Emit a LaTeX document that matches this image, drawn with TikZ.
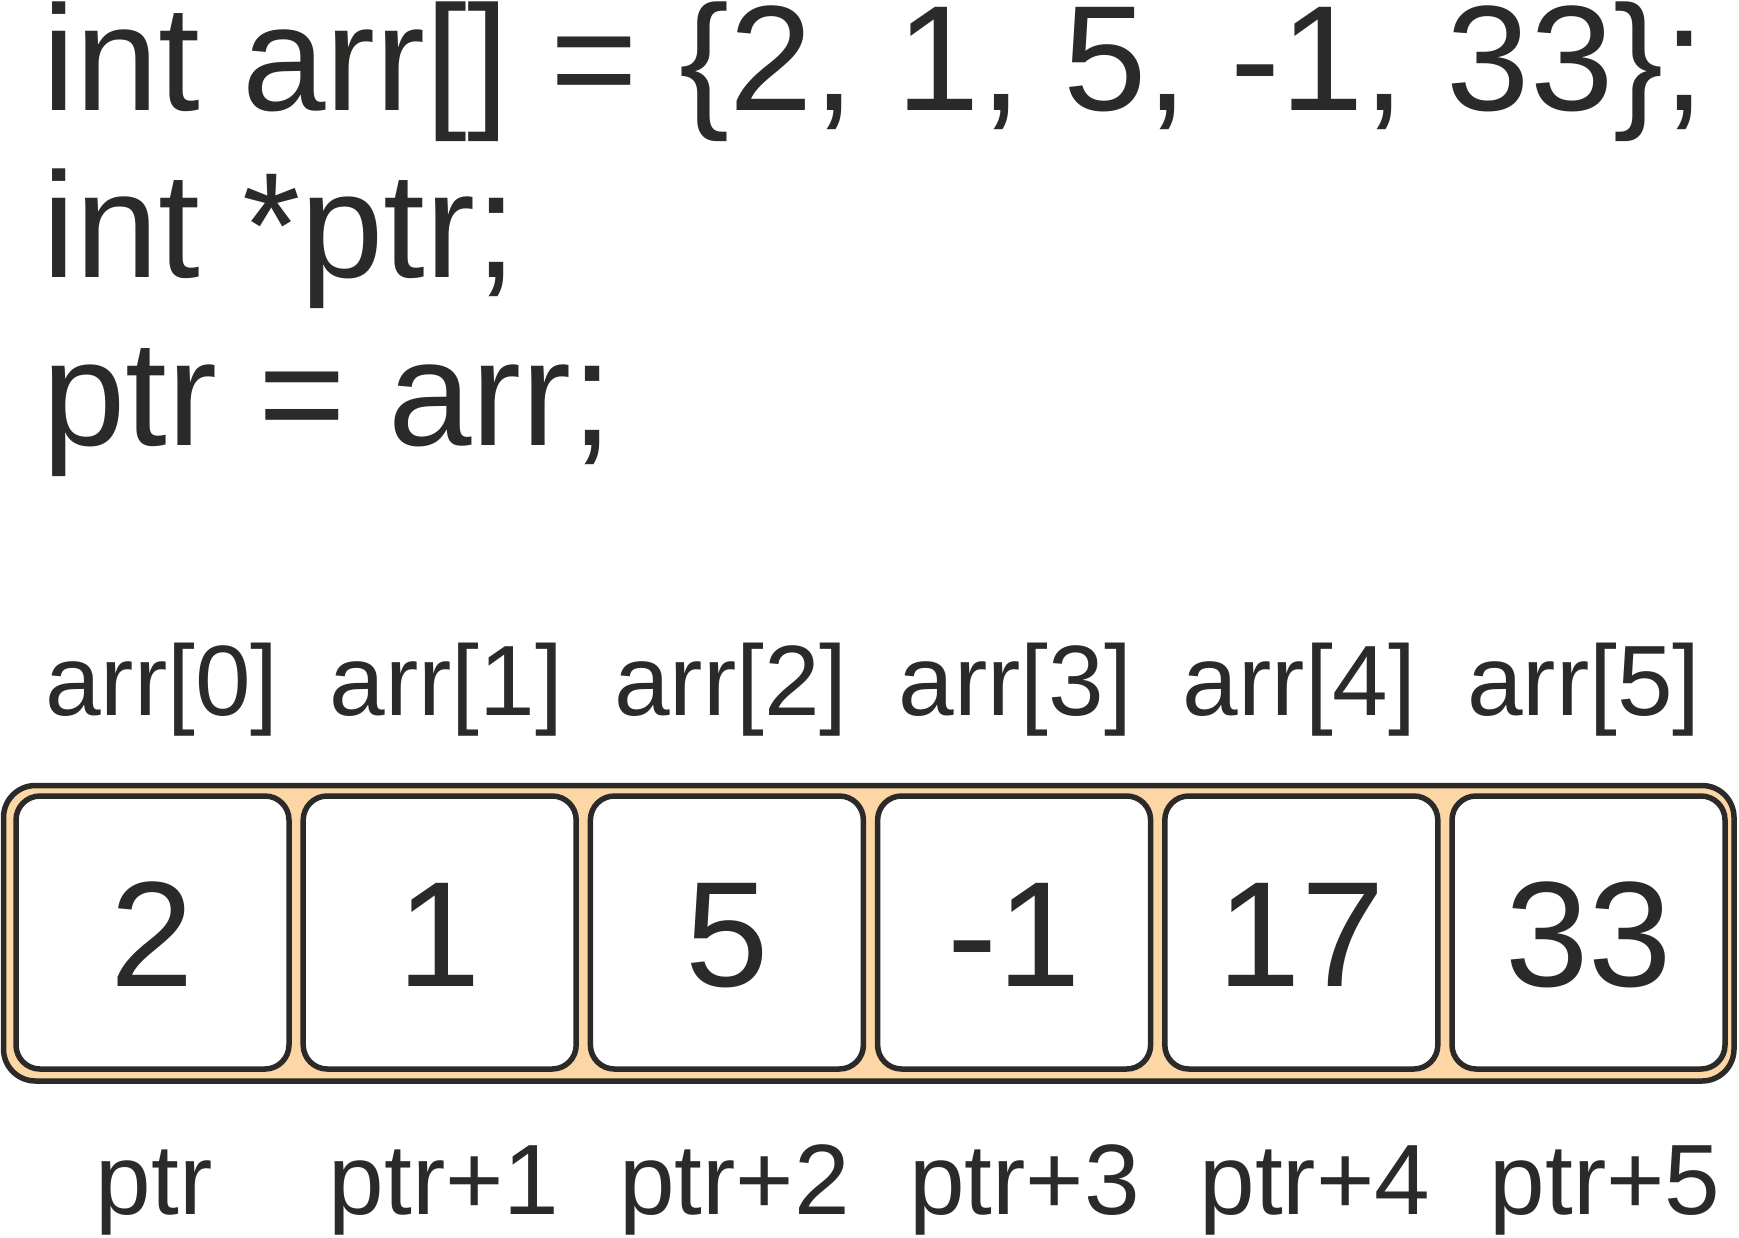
\documentclass[tikz,border=0pt]{standalone}
\usepackage{fontspec}
\setmainfont{Liberation Sans}
\definecolor{ink}{HTML}{2B2A29}
\definecolor{band}{HTML}{FCD6A5}
\begin{document}
\begin{tikzpicture}[x=1pt,y=-1pt,
  codetext/.style={anchor=base west,inner sep=0pt,text=ink,font=\fontsize{150}{150}\selectfont},
  labeltext/.style={anchor=base,inner sep=0pt,text=ink,font=\fontsize{100}{100}\selectfont},
  outerbox/.style={draw=ink,fill=band,line width=5.5pt,rounded corners=32pt,inner sep=0pt,
    minimum width=1730.5pt,minimum height=295.5pt},
  cellbox/.style={draw=ink,fill=white,line width=5.5pt,rounded corners=24pt,inner sep=0pt,
    minimum width=273pt,minimum height=273pt,text=ink,
    font=\fontsize{150}{150}\selectfont,text height=107.4pt,text depth=0pt}]
\useasboundingbox (0,0) rectangle (1739,1237);
\node[codetext] (code1) at (42,110) {int arr[] = \{2, 1, 5, -1, 33\};};
\node[codetext] (code2) at (42,277) {int *ptr;};
\node[codetext] (code3) at (42,445) {ptr = arr;};
\node[outerbox] (box) at (868.75,933.25) {};
\foreach \v [count=\i from 0] in {2,1,5,-1,17,33}{
  \node[cellbox] (cell\i) at ({152.5+287.2*\i},932.5) {\v};
  \node[labeltext] (lbl\i) at ({162+284.4*\i},715) {arr[\i]};
}
\node[labeltext] (ptr0) at (154,1214) {ptr};
\foreach \i in {1,...,5}{
  \node[labeltext] (ptr\i) at ({154+290.2*\i},1214) {ptr+\i};
}
\end{tikzpicture}
\end{document}
